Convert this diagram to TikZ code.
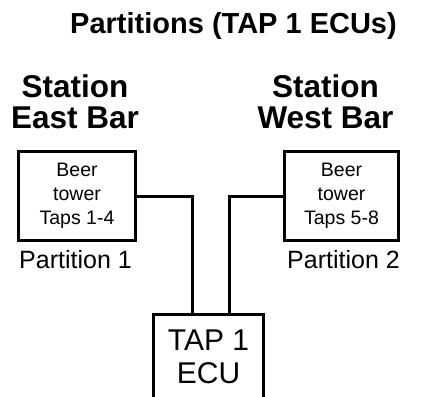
\documentclass[tikz,border=0pt]{standalone}
\usepackage{fontspec}
\setmainfont{Liberation Sans}
\begin{document}
\begin{tikzpicture}[x=1pt,y=-1pt,
  box/.style={draw=black,line width=3pt,inner sep=0pt,align=center,
    font=\fontsize{19.5}{24}\selectfont},
  wire/.style={draw=black,line width=3pt},
  station/.style={align=center,inner sep=0pt,font=\bfseries\fontsize{31.5}{31}\selectfont},
  part/.style={inner sep=0pt,anchor=base,font=\fontsize{25}{28}\selectfont}]
\useasboundingbox (0,0) rectangle (427,396);
\node[anchor=base,inner sep=0pt,font=\bfseries\fontsize{29}{30}\selectfont] (title) at (233.5,34) {Partitions (TAP 1 ECUs)};
\node[station,anchor=base] (east) at (75,128) {Station\\East Bar};
\node[station,anchor=base] (west) at (325.5,128) {Station\\West Bar};
\node[box,minimum width=117pt,minimum height=89pt] (lb) at (77,196) {Beer\\tower\\Taps 1-4};
\node[box,minimum width=114pt,minimum height=89pt] (rb) at (341.5,196) {Beer\\tower\\Taps 5-8};
\node[part] (p1) at (75.5,268) {Partition 1};
\node[part] (p2) at (343.5,268) {Partition 2};
\node[box,minimum width=110pt,minimum height=84pt,font=\fontsize{30}{33}\selectfont] (ecu) at (208.5,356.5) {TAP 1\\ECU};
\draw[wire] (lb.east) -| ([xshift=-16.5pt]ecu.north);
\draw[wire] (rb.west) -| ([xshift=20.5pt]ecu.north);
\end{tikzpicture}
\end{document}
